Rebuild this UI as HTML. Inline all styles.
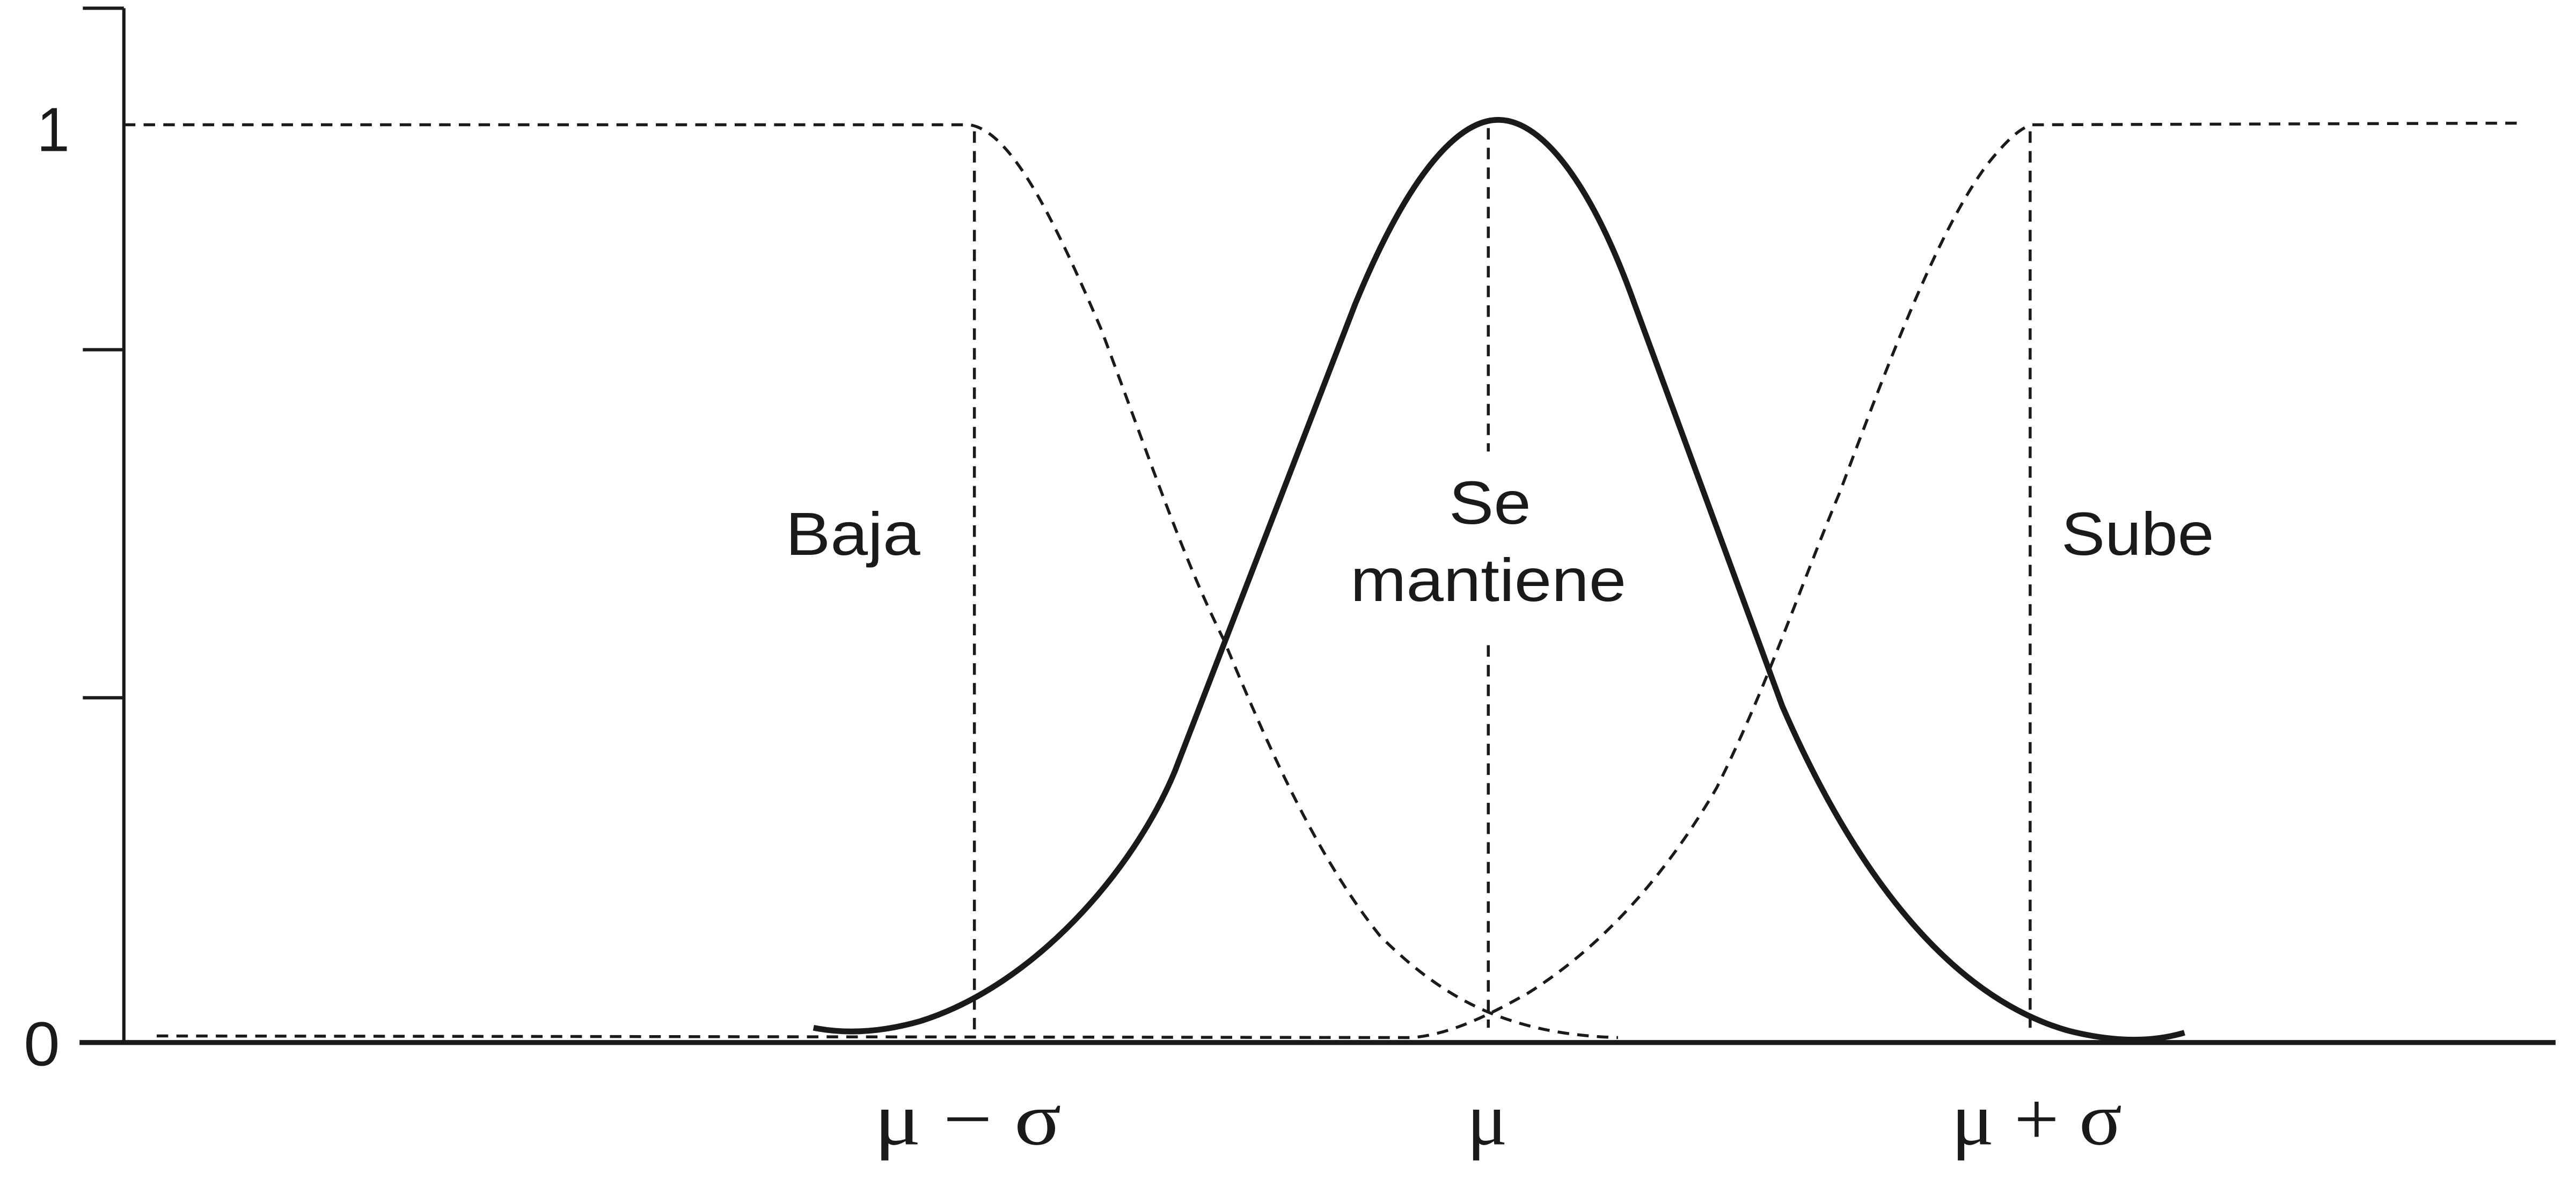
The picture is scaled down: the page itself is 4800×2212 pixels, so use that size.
<!DOCTYPE html>
<html><head><meta charset="utf-8"><style>html,body{margin:0;padding:0;background:#fff;}svg{display:block}</style></head>
<body>
<svg width="4800" height="2212" viewBox="0 0 1568 723" xmlns="http://www.w3.org/2000/svg">
<rect width="1568" height="723" fill="#fff"/>
<g stroke="#1a1a1a" fill="none">
<line x1="75" y1="5" x2="75" y2="636" stroke-width="2"/>
<line x1="48" y1="635" x2="1556" y2="635" stroke-width="3"/>
<line x1="50" y1="5" x2="75" y2="5" stroke-width="2"/>
<line x1="50" y1="213" x2="75" y2="213" stroke-width="2"/>
<line x1="50" y1="425" x2="75" y2="425" stroke-width="2"/>
<g stroke-width="1.8" stroke-dasharray="7,5">
<path d="M75,76 L590,76 C615,80 640,130 670,200 C700,280 720,340 745,390 C770,450 800,520 840,570 C880,610 920,630 985,632"/>
<path d="M95,631 L860,632 C880,630 900,622 930,605 C970,580 1010,540 1045,480 C1075,420 1095,360 1120,300 C1150,220 1180,140 1210,100 C1222,85 1230,78 1237,76 L1535,75"/>
<line x1="593" y1="80" x2="593" y2="632"/>
<line x1="906" y1="78" x2="906" y2="275"/>
<line x1="906" y1="393" x2="906" y2="626"/>
<line x1="1236" y1="80" x2="1236" y2="626"/>
</g>
<path stroke-width="3.5" d="M495,626 Q525,632 560,622 C630,600 690,530 715,470 L825,185 C860,100 890,73 912,73 C940,73 970,115 995,185 L1085,430 C1135,545 1195,610 1260,628 Q1300,638 1330,629"/>
</g>
<g font-family="'Liberation Sans', Arial, sans-serif" font-size="37" fill="#1a1a1a">
<text x="478" y="338" textLength="82" lengthAdjust="spacingAndGlyphs">Baja</text>
<text x="882" y="319" textLength="50" lengthAdjust="spacingAndGlyphs">Se</text>
<text x="822" y="366" textLength="168" lengthAdjust="spacingAndGlyphs">mantiene</text>
<text x="1255" y="338" textLength="93" lengthAdjust="spacingAndGlyphs">Sube</text>
<text x="22" y="92" font-size="38" textLength="20" lengthAdjust="spacingAndGlyphs">1</text>
<text x="14" y="649" font-size="38" textLength="22" lengthAdjust="spacingAndGlyphs">0</text>
</g>
<g font-family="'Liberation Serif', serif" font-size="46" fill="#1a1a1a">
<text x="532" y="697" textLength="114" lengthAdjust="spacingAndGlyphs">μ − σ</text>
<text x="893" y="697">μ</text>
<text x="1188" y="697" textLength="104" lengthAdjust="spacingAndGlyphs">μ + σ</text>
</g>
</svg>
</body></html>
